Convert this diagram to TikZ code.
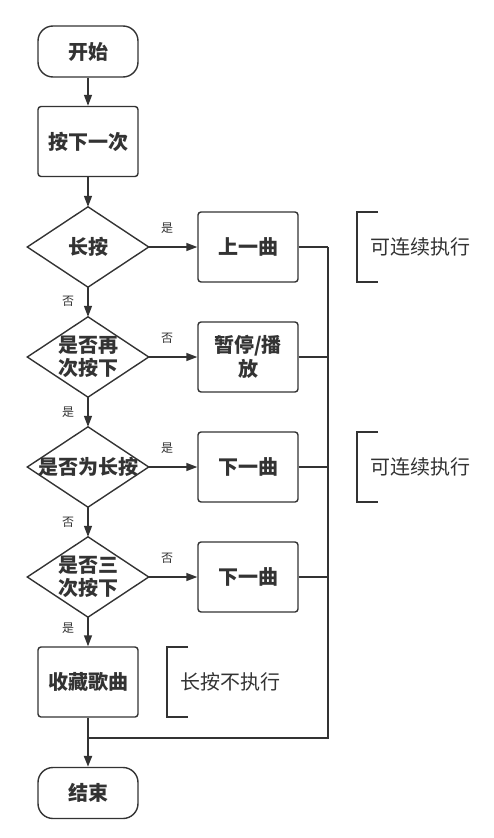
\documentclass[tikz,border=0pt]{standalone}
\usepackage{fontspec}
\setmainfont{Noto Sans CJK SC}
\usetikzlibrary{arrows.meta}
\definecolor{ink}{HTML}{333333}
\tikzset{
  every node/.style={text=ink},
  base/.style={draw=ink, line width=1.4pt, minimum width=100pt, inner sep=0pt, font=\fontsize{20}{23.5}\selectfont\bfseries, align=center},
  term/.style={base, minimum height=51pt, rounded corners=15pt},
  proc/.style={base, minimum height=70pt, rounded corners=3pt},
  decis/.style={draw=none, minimum width=121pt, minimum height=80pt, inner sep=0pt, font=\fontsize{20}{23.5}\selectfont\bfseries, align=center},
  dshape/.style={draw=ink, line width=1.4pt},
  arr/.style={draw=ink, line width=1.4pt, -{Triangle[length=11pt,width=8pt]}},
  link/.style={draw=ink, line width=1.4pt},
  bus/.style={draw=ink, line width=2.5pt},
  lbl/.style={font=\fontsize{12}{14}\selectfont, inner sep=0pt},
  note/.style={font=\fontsize{20}{23}\selectfont, anchor=west, inner sep=0pt},
  brk/.style={draw=ink, line width=1.4pt}
}
\begin{document}
\begin{tikzpicture}[x=1pt, y=-1pt]
\useasboundingbox (0,0) rectangle (493,838);

\node[term] (start) at (88,51.5) {开始};
\node[proc] (press) at (88,141.5) {按下一次};
\node[decis] (d1) at (88,247) {长按};
\node[decis] (d2) at (88,357) {是否再\\次按下};
\node[decis] (d3) at (88,467) {是否为长按};
\node[decis] (d4) at (88,577) {是否三\\次按下};
\node[proc] (fav) at (88,682) {收藏歌曲};
\node[term] (end) at (88,793) {结束};

\node[proc] (prev) at (248,247) {上一曲};
\node[proc] (pause) at (248,357) {暂停/播\\放};
\node[proc] (next1) at (248,467) {下一曲};
\node[proc] (next2) at (248,577) {下一曲};

\foreach \d in {d1,d2,d3,d4}{
  \draw[dshape] (\d.north) -- (\d.east) -- (\d.south) -- (\d.west) -- cycle;
}

% notes with brackets
\node[note] (n1) at (370,247) {可连续执行};
\node[note] (n2) at (370,467) {可连续执行};
\node[note] (n3) at (180,682) {长按不执行};
\draw[brk] (378,212) -- (357,212) -- (357,282) -- (378,282);
\draw[brk] (378,432) -- (357,432) -- (357,502) -- (378,502);
\draw[brk] (188,647) -- (167,647) -- (167,717) -- (188,717);

% main flow
\draw[arr] (start) -- (press);
\draw[arr] (press) -- (d1);
\draw[arr] (d1) -- (d2);
\draw[arr] (d2) -- (d3);
\draw[arr] (d3) -- (d4);
\draw[arr] (d4) -- (fav);
\draw[arr] (d1.east) -- (prev);
\draw[arr] (d2.east) -- (pause);
\draw[arr] (d3.east) -- (next1);
\draw[arr] (d4.east) -- (next2);

% labels
\node[lbl] at (167,228) {是};
\node[lbl] at (68,301) {否};
\node[lbl] at (167,338) {否};
\node[lbl] at (68,412) {是};
\node[lbl] at (167,448) {是};
\node[lbl] at (68,522) {否};
\node[lbl] at (167,558) {否};
\node[lbl] at (68,628) {是};

% merge
\coordinate (top) at (328,247);
\coordinate (corner) at (328,738);
\coordinate (join) at (88,738);
\draw[link] (prev.east) -- (prev.east -| top);
\draw[link] (pause.east) -- (pause.east -| top);
\draw[link] (next1.east) -- (next1.east -| top);
\draw[link] (next2.east) -- (next2.east -| top);
\draw[bus] (top) -- (corner) -- (join);
\draw[link] (fav.south) -- (join);
\draw[arr, line width=2.2pt] (join) -- (end.north);
\end{tikzpicture}
\end{document}
